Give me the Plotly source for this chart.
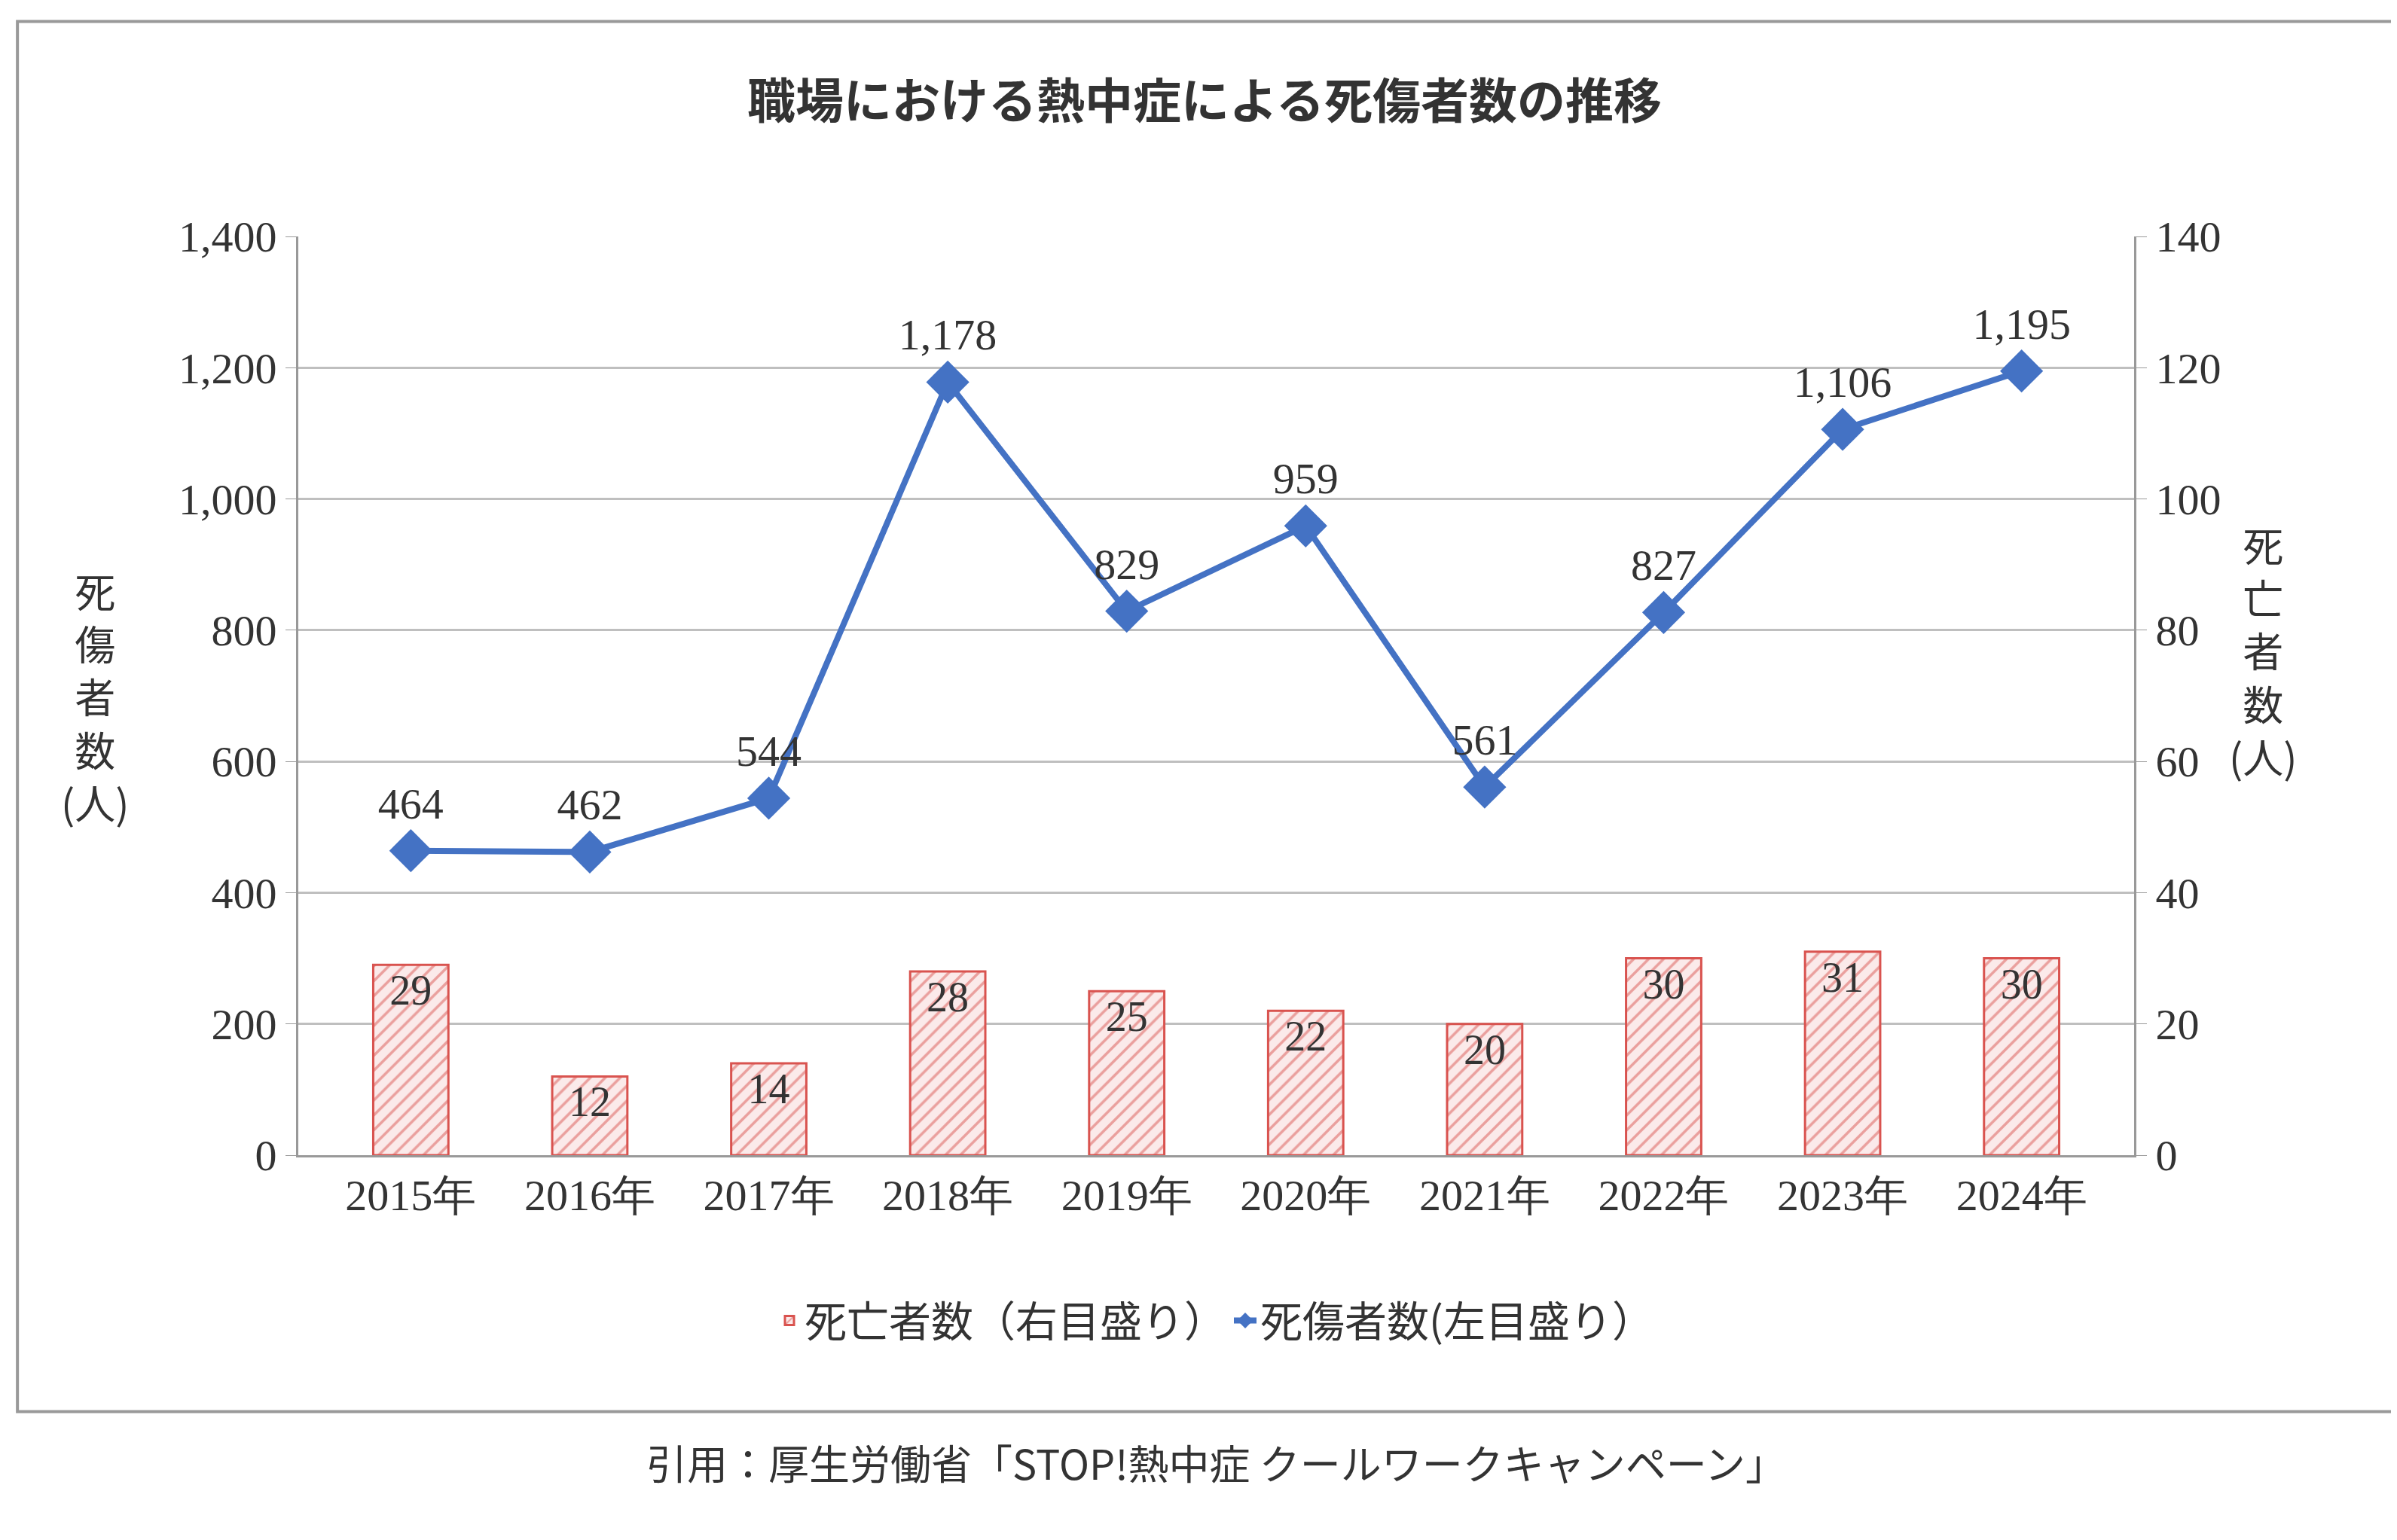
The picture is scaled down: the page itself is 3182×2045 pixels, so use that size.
import plotly.graph_objects as go

years = ["2015年", "2016年", "2017年", "2018年", "2019年", "2020年", "2021年", "2022年", "2023年", "2024年"]
casualties = [464, 462, 544, 1178, 829, 959, 561, 827, 1106, 1195]
deaths = [29, 12, 14, 28, 25, 22, 20, 30, 31, 30]

FONT = "Noto Sans CJK JP"
TXT = "#333333"

fig = go.Figure()

fig.add_trace(go.Bar(
    x=years, y=deaths, yaxis="y2", name="死亡者数（右目盛り）",
    width=0.42,
    marker=dict(color="white", line=dict(color="#d9534f", width=3),
                pattern=dict(shape="/", fgcolor="#d9534f", bgcolor="#fbeaea", size=14, solidity=0.25)),
    text=[str(v) for v in deaths], textposition="inside", insidetextanchor="end",
    textfont=dict(family="Liberation Serif", size=56, color=TXT),
    cliponaxis=False,
))

fig.add_trace(go.Scatter(
    x=years, y=casualties, name="死傷者数(左目盛り）",
    mode="lines+markers+text",
    line=dict(color="#4472c4", width=8),
    marker=dict(symbol="diamond", size=44, color="#4472c4"),
    text=[f"{v:,}" for v in casualties], textposition="top center",
    textfont=dict(family="Liberation Serif", size=58, color=TXT),
    cliponaxis=False,
))

fig.update_layout(
    width=3182, height=2045,
    paper_bgcolor="white", plot_bgcolor="white",
    margin=dict(l=388, r=357, t=306, b=519),
    font=dict(family=FONT, color=TXT),
    title=dict(text="<b>職場における熱中症による死傷者数の推移</b>", x=0.5, xanchor="center",
               y=0.938, yanchor="middle", font=dict(size=64, family=FONT, color=TXT)),
    xaxis=dict(showline=True, linecolor="#999999", linewidth=3,
               tickfont=dict(family="Liberation Serif", size=58, color=TXT)),
    yaxis=dict(range=[0, 1400], dtick=200, tickformat=",", showgrid=True, gridcolor="#bfbfbf", gridwidth=3,
               showline=True, linecolor="#999999", linewidth=3, ticks="outside", ticklen=14,
               tickcolor="#999999", tickfont=dict(family="Liberation Serif", size=58, color=TXT), zeroline=False),
    yaxis2=dict(range=[0, 140], dtick=20, overlaying="y", side="right", showgrid=False,
                showline=True, linecolor="#999999", linewidth=3, ticks="outside", ticklen=14,
                tickcolor="#999999", tickfont=dict(family="Liberation Serif", size=58, color=TXT), zeroline=False),
    legend=dict(orientation="h", x=0.5, xanchor="center", y=-0.18, yanchor="middle",
                font=dict(size=56, family=FONT, color=TXT)),
    showlegend=True,
)

fig.add_shape(type="rect", xref="paper", yref="paper", x0=-0.153, x1=1.142, y0=-0.279, y1=1.234,
              line=dict(color="#999999", width=4))

fig.add_annotation(text="<br>".join("死傷者数") + "<br>(人)", xref="paper", yref="paper", x=-0.13, y=0.5,
                   showarrow=False, font=dict(size=54, family=FONT, color=TXT), align="center")
fig.add_annotation(text="<br>".join("死亡者数") + "<br>(人)", xref="paper", yref="paper", x=1.09, y=0.55,
                   showarrow=False, font=dict(size=54, family=FONT, color=TXT), align="center")
fig.add_annotation(text="引用：厚生労働省「STOP!熱中症 クールワークキャンペーン」", xref="paper", yref="paper",
                   x=0.5, y=-0.368, showarrow=False, font=dict(size=54, family=FONT, color=TXT))

fig.write_html("out.html")
